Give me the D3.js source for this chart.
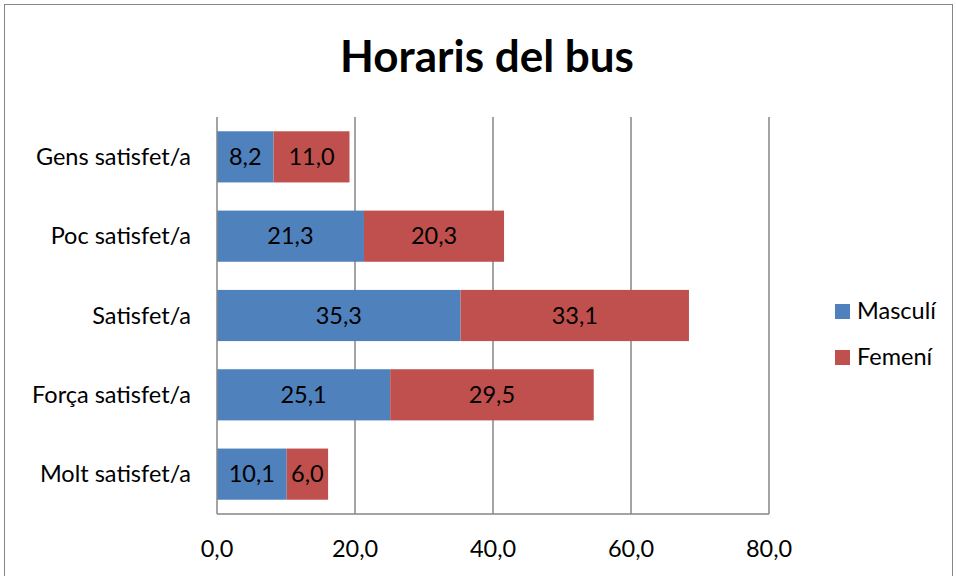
<!DOCTYPE html>
<html>
<head>
<meta charset="utf-8">
<script src="https://cdn.jsdelivr.net/npm/d3@7"></script>
<style>
  html, body { margin: 0; padding: 0; background: #fff; }
  svg { display: block; font-family: Lato, "Open Sans", sans-serif; }
</style>
</head>
<body>
<svg id="chart" width="956" height="576"></svg>
<script>
// Satisfacció amb els horaris del bus, per sexe (%)
const categories = ["Gens satisfet/a", "Poc satisfet/a", "Satisfet/a", "Força satisfet/a", "Molt satisfet/a"];
const masculi = [8.2, 21.3, 35.3, 25.1, 10.1];
const femeni = [11.0, 20.3, 33.1, 29.5, 6.0];
const seriesNames = ["Masculí", "Femení"];
const seriesColors = ["#4F81BD", "#C0504D"];
const xTicks = [0, 20, 40, 60, 80];

const svg = d3.select("#chart");
const W = 956, H = 576;
const labelSize = 23.5;

// outer chart frame
svg.append("rect")
  .attr("x", 4.5).attr("y", 4.5)
  .attr("width", W - 8).attr("height", H)
  .attr("fill", "#fff").attr("stroke", "#868686").attr("stroke-width", 1);

// title
svg.append("text")
  .attr("x", 487).attr("y", 72)
  .attr("text-anchor", "middle")
  .attr("font-size", 44).attr("font-weight", "bold")
  .attr("fill", "#000")
  .text("Horaris del bus");

const plot = { left: 217, right: 769, top: 117, bottom: 514 };

const x = d3.scaleLinear().domain([0, 80]).range([plot.left, plot.right]);
const y = d3.scaleBand().domain(categories).range([plot.top, plot.bottom]).paddingInner(0.355).paddingOuter(0.18);

// vertical gridlines
svg.append("g").selectAll("line").data(xTicks.slice(1)).join("line")
  .attr("x1", d => x(d)).attr("x2", d => x(d))
  .attr("y1", plot.top).attr("y2", plot.bottom)
  .attr("stroke", "#868686").attr("stroke-width", 1.5);

// stacked data
const rows = categories.map((c, i) => ({ cat: c, vals: [masculi[i], femeni[i]] }));
const stack = d3.stack().keys([0, 1]).value((d, k) => d.vals[k]);
const stacked = stack(rows);

const fmt = v => d3.format(".1f")(v).replace(".", ",");

stacked.forEach((layer, k) => {
  const g = svg.append("g");
  g.selectAll("rect").data(layer).join("rect")
    .attr("x", d => x(d[0]))
    .attr("y", d => y(d.data.cat))
    .attr("width", d => x(d[1]) - x(d[0]))
    .attr("height", y.bandwidth())
    .attr("fill", seriesColors[k]);
  g.selectAll("text").data(layer).join("text")
    .attr("x", d => (x(d[0]) + x(d[1])) / 2)
    .attr("y", d => y(d.data.cat) + y.bandwidth() / 2)
    .attr("dy", "0.35em")
    .attr("text-anchor", "middle")
    .attr("font-size", labelSize)
    .attr("fill", "#000")
    .text(d => fmt(d[1] - d[0]));
});

// axes lines
svg.append("line")
  .attr("x1", plot.left).attr("x2", plot.left)
  .attr("y1", plot.top).attr("y2", plot.bottom)
  .attr("stroke", "#868686").attr("stroke-width", 1.5);
svg.append("line")
  .attr("x1", plot.left).attr("x2", plot.right)
  .attr("y1", plot.bottom).attr("y2", plot.bottom)
  .attr("stroke", "#868686").attr("stroke-width", 1.5);

// x tick labels
svg.append("g").selectAll("text").data(xTicks).join("text")
  .attr("x", d => x(d))
  .attr("y", 549)
  .attr("dy", "0.35em")
  .attr("text-anchor", "middle")
  .attr("font-size", labelSize)
  .attr("fill", "#000")
  .text(d => fmt(d));

// category labels
svg.append("g").selectAll("text").data(categories).join("text")
  .attr("x", 191)
  .attr("y", d => y(d) + y.bandwidth() / 2)
  .attr("dy", "0.35em")
  .attr("text-anchor", "end")
  .attr("font-size", labelSize)
  .attr("fill", "#000")
  .text(d => d);

// legend
const legend = svg.append("g");
seriesNames.forEach((name, i) => {
  const ly = 311 + i * 46;
  legend.append("rect")
    .attr("x", 835).attr("y", ly - 7)
    .attr("width", 15).attr("height", 15)
    .attr("fill", seriesColors[i]);
  legend.append("text")
    .attr("x", 857).attr("y", ly)
    .attr("dy", "0.35em")
    .attr("font-size", labelSize)
    .attr("fill", "#000")
    .text(name);
});
</script>
</body>
</html>
